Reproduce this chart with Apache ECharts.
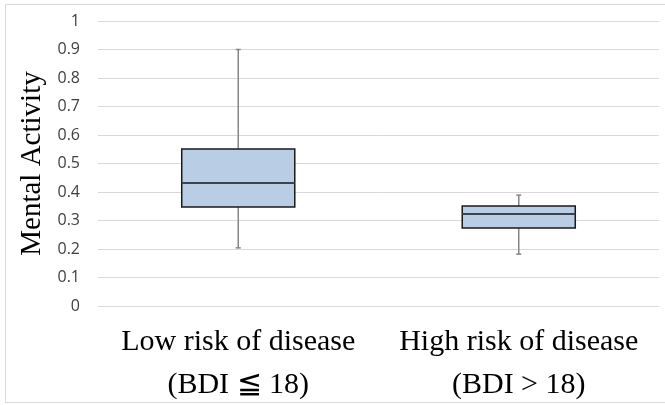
<!DOCTYPE html>
<html>
<head>
<meta charset="utf-8">
<script src="https://cdn.jsdelivr.net/npm/echarts@6/dist/echarts.min.js"></script>
<style>
  html, body { margin: 0; padding: 0; background: #fff; }
  #boxChart { width: 665px; height: 405px; }
</style>
</head>
<body>
<div id="boxChart"></div>
<script>
// 类别与箱线数据: [min, q1, median, q3, max]
const categories = ['Low risk of disease\n(BDI ≦ 18)', 'High risk of disease\n(BDI > 18)']
const lowRisk = [0.204, 0.347, 0.432, 0.551, 0.9]
const highRisk = [0.182, 0.274, 0.323, 0.351, 0.389]

const boxData = [lowRisk, highRisk].map((v, i) => [i].concat(v))

const myChart = echarts.init(document.getElementById('boxChart'))

function renderBox(params, api) {
  const idx = api.value(0)
  const pMin = api.coord([idx, api.value(1)])
  const pQ1 = api.coord([idx, api.value(2)])
  const pMed = api.coord([idx, api.value(3)])
  const pQ3 = api.coord([idx, api.value(4)])
  const pMax = api.coord([idx, api.value(5)])
  const bandW = api.size([1, 0])[0]
  const halfW = bandW * 0.2015
  const x = pMed[0]
  const capW = 2.5
  const whisker = { stroke: '#858585', lineWidth: 1.5 }
  return {
    type: 'group',
    children: [
      { type: 'line', shape: { x1: x, y1: pQ3[1], x2: x, y2: pMax[1] }, style: whisker },
      { type: 'line', shape: { x1: x, y1: pQ1[1], x2: x, y2: pMin[1] }, style: whisker },
      { type: 'line', shape: { x1: x - capW, y1: pMax[1], x2: x + capW, y2: pMax[1] }, style: whisker },
      { type: 'line', shape: { x1: x - capW, y1: pMin[1], x2: x + capW, y2: pMin[1] }, style: whisker },
      {
        type: 'rect',
        shape: { x: x - halfW, y: pQ3[1], width: halfW * 2, height: pQ1[1] - pQ3[1] },
        style: { fill: '#b9cde5', stroke: '#1a1a1a', lineWidth: 1.5 }
      },
      {
        type: 'line',
        shape: { x1: x - halfW, y1: pMed[1], x2: x + halfW, y2: pMed[1] },
        style: { stroke: '#3b4252', lineWidth: 2 }
      }
    ]
  }
}

const option = {
  backgroundColor: '#fff',
  animation: false,
  grid: { left: 98, right: 6, top: 21, bottom: 99, containLabel: false, outerBoundsMode: 'none' },
  xAxis: {
    type: 'category',
    data: categories,
    axisLine: { show: false },
    axisTick: { show: false },
    axisLabel: {
      interval: 0,
      hideOverlap: false,
      margin: 15,
      fontFamily: '"Liberation Serif", "Times New Roman", serif',
      fontSize: 30,
      lineHeight: 43,
      color: '#000'
    }
  },
  yAxis: {
    type: 'value',
    min: 0,
    max: 1,
    interval: 0.1,
    name: 'Mental Activity',
    nameLocation: 'middle',
    nameGap: 50,
    nameTextStyle: {
      fontFamily: '"Liberation Serif", "Times New Roman", serif',
      fontSize: 29,
      color: '#000'
    },
    axisLine: { show: false },
    axisTick: { show: false },
    axisLabel: {
      margin: 18,
      fontFamily: '"Open Sans", "Noto Sans", sans-serif',
      fontSize: 16,
      color: '#404040'
    },
    splitLine: { lineStyle: { color: '#d9d9d9', width: 1 } }
  },
  graphic: [
    {
      type: 'rect',
      silent: true,
      shape: { x: 5.5, y: 4.5, width: 680, height: 398 },
      style: { fill: 'none', stroke: '#d9d9d9', lineWidth: 1 }
    }
  ],
  series: [
    {
      type: 'custom',
      renderItem: renderBox,
      encode: { x: 0, y: [1, 2, 3, 4, 5] },
      data: boxData
    }
  ]
}

myChart.setOption(option)
</script>
</body>
</html>
